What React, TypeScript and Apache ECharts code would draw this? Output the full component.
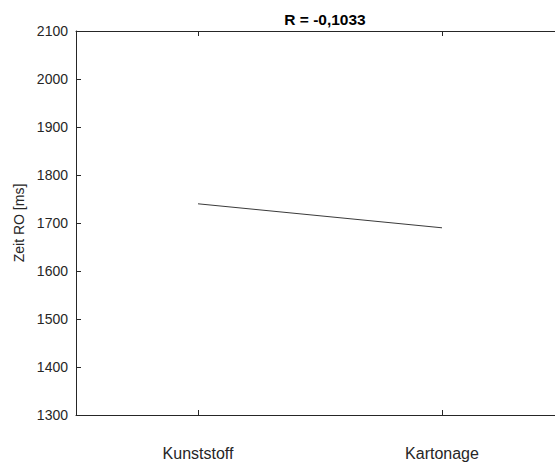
import React, { useEffect, useRef } from "react";
import * as echarts from "echarts";

const categories = ["Kunststoff", "Kartonage"];
const zeitRO = [1740, 1690];
const yMin = 1300;
const yMax = 2100;
const yStep = 100;
const titleText = "R = -0,1033";
const yName = "Zeit RO [ms]";

export default function App() {
  const ref = useRef<HTMLDivElement>(null);

  useEffect(() => {
    if (!ref.current) return;
    const chart = echarts.init(ref.current, undefined, { renderer: "svg" });
    const font = "Liberation Sans, Arial, Helvetica, sans-serif";
    const axisColor = "#262626";
    // categories sit at 1..n on a numeric axis padded by half a step each side
    const positions = categories.map((_, i) => i + 1);
    const catLabel = (v: number) => {
      const i = Math.round(v) - 1;
      return Math.abs(v - Math.round(v)) < 1e-6 && categories[i] ? categories[i] : "";
    };
    const xCommon = {
      type: "value",
      min: 0.5,
      max: categories.length + 0.5,
      interval: 0.5,
      splitLine: { show: false },
      axisLine: { show: true, onZero: false, lineStyle: { color: axisColor, width: 1 } },
      axisTick: {
        show: true,
        inside: true,
        length: 5,
        customValues: positions,
        lineStyle: { color: axisColor },
      },
    };
    chart.setOption({
      animation: false,
      backgroundColor: "#ffffff",
      textStyle: { fontFamily: font },
      title: {
        text: titleText,
        left: 320,
        textAlign: "center",
        top: 6,
        textStyle: { fontSize: 15.5, fontWeight: "bold", color: "#000", fontFamily: font },
      },
      grid: {
        left: 76,
        top: 31,
        width: 488,
        height: 384,
        containLabel: false,
        outerBoundsMode: "none",
      },
      xAxis: [
        {
          ...xCommon,
          position: "bottom",
          axisLabel: {
            margin: 30,
            fontSize: 16,
            color: axisColor,
            fontFamily: font,
            customValues: positions,
            formatter: catLabel,
          },
        },
        {
          ...xCommon,
          position: "top",
          axisLabel: { show: false },
        },
      ],
      yAxis: {
        type: "value",
        min: yMin,
        max: yMax,
        interval: yStep,
        name: yName,
        nameLocation: "middle",
        nameGap: 48,
        nameTextStyle: { fontSize: 14, color: axisColor, fontFamily: font },
        axisLine: { show: true, lineStyle: { color: axisColor, width: 1 } },
        axisTick: { show: true, inside: true, length: 5, lineStyle: { color: axisColor } },
        axisLabel: {
          margin: 8,
          fontSize: 14,
          color: axisColor,
          fontFamily: font,
          formatter: (v: number) => String(v),
        },
        splitLine: { show: false },
      },
      series: [
        {
          type: "line",
          data: zeitRO.map((v, i) => [positions[i], v]),
          xAxisIndex: 0,
          symbol: "none",
          lineStyle: { color: "#3a3a3a", width: 1 },
        },
      ],
    });
    return () => chart.dispose();
  }, []);

  return (
    <div
      ref={ref}
      style={{ position: "fixed", left: 0, top: 0, width: 555, height: 464 }}
    />
  );
}
